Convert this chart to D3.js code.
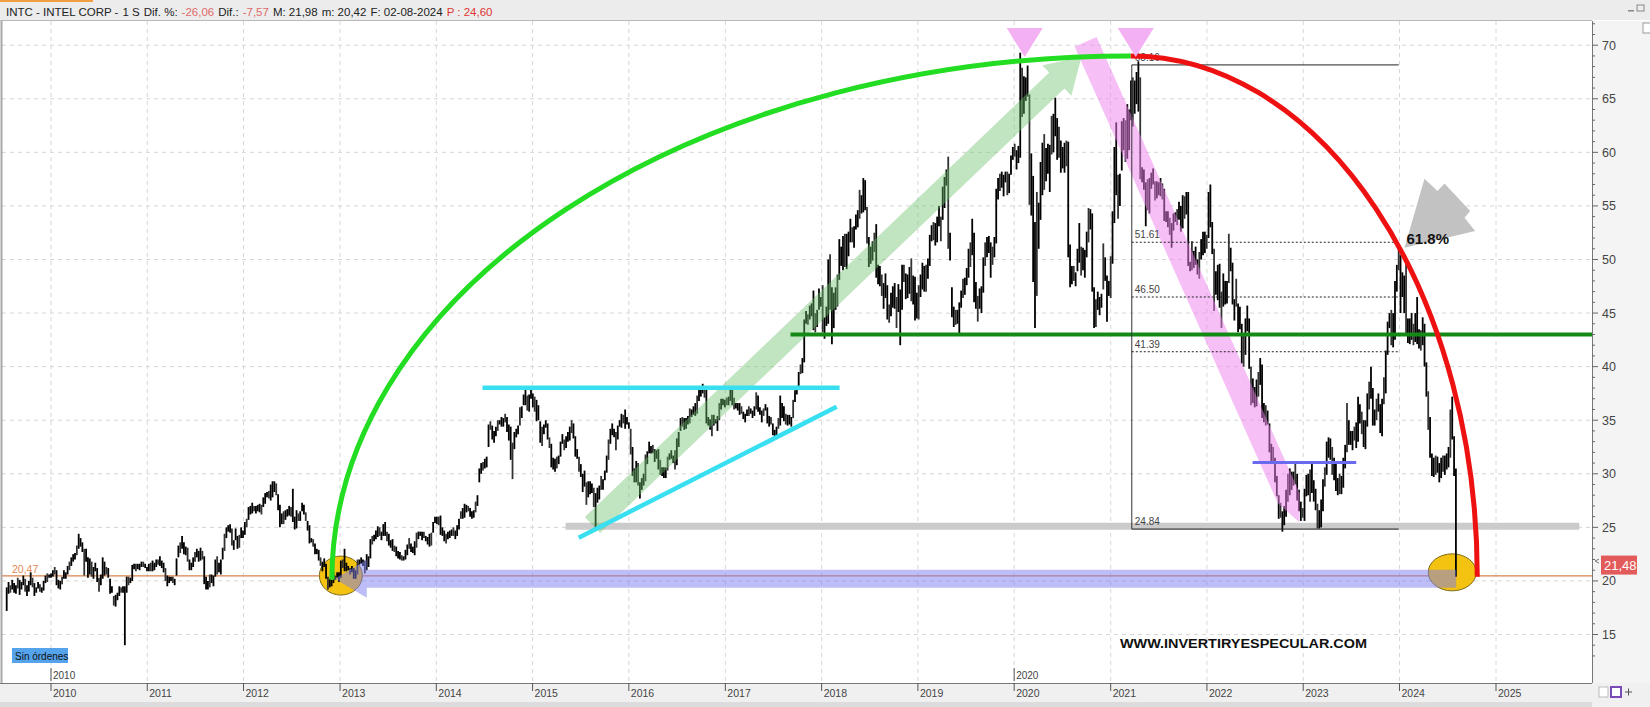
<!DOCTYPE html>
<html><head><meta charset="utf-8">
<script src="https://cdn.jsdelivr.net/npm/d3@7"></script>
<style>body{margin:0;background:#fff;overflow:hidden}svg{display:block}</style>
</head><body><svg id="c" width="1650" height="707"></svg>
<script>
// ---------- DATA (weekly bars: [low, high]) ----------
const weekStarts = ["2009-07-17","2010-01-01","2011-01-07","2012-01-06","2013-01-04","2014-01-03","2015-01-02","2016-01-01","2017-01-06","2018-01-05","2019-01-04","2020-01-03","2021-01-01","2022-01-07","2023-01-06","2024-01-05"];
const w2009 = [[17.2,19.4],[18.8,19.9],[18.9,19.6],[19.2,20.1],[18.9,19.8],[18.8,19.6],[19.3,20.3],[18.7,20.1],[19.2,19.9],[19.6,20.5],[19.0,20.2],[18.6,19.6],[19.0,20.0],[19.6,20.8],[19.4,20.3],[18.6,19.8],[18.9,19.4],[19.3,19.9],[19.0,19.7],[18.9,19.4],[19.1,20.0],[19.8,20.5],[19.9,20.7],[20.3,20.6]];
const w2010 = [[20.3,20.7],[20.4,21.0],[20.6,21.3],[19.6,21.0],[19.3,20.1],[19.2,20.0],[19.7,20.4],[20.2,21.0],[20.2,20.8],[20.6,21.4],[21.0,21.8],[21.4,22.2],[21.8,22.5],[22.0,22.6],[22.4,23.3],[23.0,24.4],[23.2,24.0],[22.7,23.6],[20.5,23.0],[21.8,23.0],[20.3,22.2],[20.6,22.1],[20.4,21.8],[20.2,21.3],[20.9,21.7],[19.9,21.2],[19.0,20.3],[19.6,20.6],[20.2,22.2],[20.5,21.8],[20.6,21.3],[20.3,21.2],[18.8,20.2],[18.9,19.5],[17.7,18.6],[17.6,18.7],[18.2,18.9],[18.6,19.5],[18.9,19.4],[18.9,19.5],[14.0,19.5],[18.9,20.4],[19.6,20.4],[19.8,20.3],[20.0,21.5],[21.1,21.6],[20.9,21.6],[21.1,21.6],[21.0,21.6],[21.3,21.8],[21.3,21.8],[21.2,21.6],[20.9,21.3]];
const w2011 = [[20.9,21.6],[20.9,21.7],[20.9,21.9],[21.0,21.7],[21.3,22.0],[21.5,22.0],[21.4,22.3],[21.2,21.9],[20.8,21.7],[20.0,21.2],[19.5,20.5],[19.8,20.4],[20.0,20.4],[19.8,20.4],[19.6,20.2],[20.5,22.1],[22.2,23.3],[22.6,23.6],[23.0,24.2],[22.5,23.6],[22.4,23.2],[21.8,23.1],[21.0,22.0],[21.0,21.7],[21.3,22.2],[21.8,22.7],[22.2,23.0],[21.8,22.8],[21.9,23.1],[22.0,22.8],[19.7,22.3],[19.2,20.4],[19.2,20.0],[19.4,20.6],[19.8,20.6],[19.5,20.5],[20.4,22.0],[20.6,22.3],[20.8,21.7],[20.6,22.0],[22.0,23.1],[22.8,24.4],[24.0,25.0],[24.6,25.2],[24.5,25.3],[23.3,24.9],[22.9,23.8],[23.8,24.9],[23.0,24.2],[23.1,24.3],[24.0,25.0],[24.0,24.7]];
const w2012 = [[24.3,25.5],[25.0,25.8],[25.7,26.9],[26.2,27.0],[26.3,27.3],[26.5,27.0],[26.3,27.0],[26.5,27.1],[26.4,27.2],[26.2,27.1],[26.9,27.8],[27.2,28.2],[27.8,28.3],[27.7,28.4],[27.5,29.0],[27.8,29.3],[28.3,29.3],[28.0,29.1],[26.6,28.1],[25.0,27.1],[25.3,26.3],[25.3,26.5],[25.7,26.6],[26.0,26.7],[26.1,27.0],[26.0,26.9],[25.5,28.6],[24.8,26.0],[24.9,26.6],[25.6,26.3],[25.6,26.5],[26.5,27.3],[26.2,27.1],[25.6,26.4],[24.7,25.6],[23.5,25.2],[23.6,24.0],[23.2,23.9],[22.5,23.5],[22.5,23.0],[21.9,22.9],[21.4,22.2],[20.9,21.8],[21.3,22.1],[20.2,21.6],[19.2,20.4],[19.4,20.2],[19.5,20.1],[19.8,20.8],[20.1,20.5],[20.3,20.8],[19.9,20.8]];
const w2013 = [[20.3,21.9],[21.2,22.0],[20.9,23.0],[20.9,21.7],[21.0,21.4],[20.6,21.2],[20.8,21.4],[20.2,21.2],[20.2,21.0],[20.6,22.0],[21.5,22.0],[21.6,22.2],[21.4,22.0],[20.7,21.9],[21.0,22.5],[21.3,22.3],[22.1,23.9],[23.4,24.2],[23.7,24.3],[23.9,24.7],[24.1,25.1],[24.2,25.0],[23.8,24.6],[24.2,25.3],[24.2,25.5],[23.7,24.6],[23.3,24.4],[23.1,23.8],[22.8,23.9],[22.7,23.3],[22.3,23.2],[22.1,22.8],[22.0,22.7],[21.9,22.4],[21.9,22.3],[22.0,22.9],[22.4,23.4],[23.0,24.0],[22.7,23.5],[22.6,23.2],[22.4,23.7],[23.1,24.5],[23.9,24.6],[24.2,24.6],[23.8,24.6],[24.0,24.6],[23.7,24.2],[23.4,24.1],[23.2,24.4],[23.3,24.5],[24.5,25.5],[25.4,26.0]];
const w2014 = [[25.3,26.0],[25.2,26.0],[24.3,26.1],[24.2,25.0],[23.7,24.7],[23.5,24.4],[23.9,24.6],[24.0,24.7],[24.2,24.8],[24.2,25.0],[23.9,24.7],[24.2,25.2],[24.8,25.8],[25.8,26.5],[25.8,26.8],[25.9,27.2],[26.4,27.1],[26.5,27.0],[26.0,26.8],[25.8,26.5],[25.9,26.6],[26.4,27.4],[27.0,28.0],[29.2,30.5],[30.0,31.0],[30.3,31.1],[30.5,31.4],[30.6,31.6],[32.5,34.6],[34.1,34.9],[33.2,34.5],[32.9,34.0],[33.5,34.4],[34.0,35.0],[34.6,35.0],[34.4,35.3],[34.4,35.2],[34.8,35.6],[33.9,35.3],[33.1,34.6],[31.3,34.4],[29.5,32.9],[32.3,33.9],[33.4,34.2],[33.7,34.5],[34.5,36.2],[35.2,36.3],[36.4,37.4],[36.4,37.9],[35.9,37.3],[35.8,37.4],[37.0,37.9]];
const w2015 = [[36.2,37.5],[35.8,37.2],[34.9,36.9],[35.0,36.4],[32.9,34.9],[32.6,34.4],[33.7,34.6],[34.3,35.0],[33.2,34.7],[32.4,33.4],[30.6,32.8],[30.4,31.5],[30.2,31.4],[30.5,31.6],[30.9,31.7],[31.6,33.0],[32.8,33.7],[32.2,33.2],[32.4,33.5],[33.0,33.9],[33.1,34.4],[33.8,35.0],[33.3,34.7],[31.6,33.5],[31.4,32.3],[30.2,31.6],[29.7,30.9],[28.3,30.0],[28.8,30.3],[27.1,29.2],[27.8,29.3],[28.1,29.3],[28.2,29.1],[26.9,28.7],[24.9,28.2],[27.3,28.7],[27.6,28.9],[28.5,29.8],[28.5,29.5],[29.4,30.3],[30.1,31.7],[31.3,33.2],[32.8,34.2],[33.6,34.7],[33.4,34.2],[32.2,33.9],[33.2,34.5],[34.4,35.0],[34.3,35.6],[34.7,35.5],[34.2,36.0],[34.6,35.3]];
const w2016 = [[34.2,34.8],[31.8,34.2],[29.8,32.5],[29.2,30.5],[29.2,31.2],[28.9,31.0],[27.7,29.2],[28.5,29.6],[28.9,30.0],[29.3,31.8],[30.9,32.1],[31.9,33.0],[31.9,32.6],[31.9,32.7],[31.1,32.3],[31.4,32.2],[30.4,32.3],[29.9,31.3],[29.8,30.6],[29.6,30.6],[29.6,30.6],[30.3,31.6],[31.3,31.9],[31.4,32.2],[31.0,31.7],[30.4,32.2],[30.8,33.3],[32.5,33.9],[34.0,35.2],[34.4,35.3],[34.1,35.2],[34.2,35.2],[34.6,35.4],[34.7,36.1],[35.3,36.0],[35.5,36.3],[35.4,36.6],[35.6,37.3],[36.8,38.0],[37.2,38.1],[37.5,38.4],[37.1,37.9],[34.7,37.9],[34.5,35.3],[34.1,35.1],[33.5,35.5],[34.5,35.5],[34.7,35.1],[34.0,35.4],[35.0,36.6],[36.0,37.0],[36.4,37.0],[36.2,36.9]];
const w2017 = [[36.4,37.1],[36.4,37.2],[36.8,38.0],[36.4,38.0],[36.0,37.1],[36.1,36.6],[35.9,36.6],[35.5,36.6],[35.6,36.3],[35.1,35.8],[34.8,35.6],[35.4,36.0],[35.4,36.3],[35.6,36.1],[35.2,35.9],[35.4,36.3],[36.0,37.6],[35.8,37.3],[35.5,36.2],[34.8,35.9],[35.4,36.1],[35.9,36.5],[34.7,36.2],[34.4,35.4],[34.6,35.3],[33.6,34.7],[33.2,34.1],[33.4,34.4],[34.2,35.2],[34.5,37.3],[35.2,36.6],[34.9,36.3],[34.6,35.6],[34.5,35.5],[34.6,35.5],[34.4,35.3],[35.2,36.9],[36.7,37.8],[37.4,38.2],[37.9,39.5],[39.3,40.2],[39.4,40.8],[40.4,44.4],[44.0,45.2],[43.9,44.9],[44.4,45.7],[44.7,45.9],[43.4,47.1],[43.2,45.0],[43.7,45.3],[45.3,47.3],[45.6,46.5]];
const w2018 = [[43.2,47.6],[42.6,44.6],[43.8,45.6],[44.0,50.0],[45.3,50.5],[42.1,47.4],[43.6,46.9],[45.3,47.4],[45.6,48.6],[48.1,51.9],[49.4,51.2],[49.0,52.2],[49.3,52.4],[49.1,52.4],[50.3,52.6],[51.6,53.8],[51.6,53.0],[51.1,53.1],[52.8,54.2],[53.0,54.6],[53.8,56.5],[54.3,56.0],[54.4,57.6],[54.6,57.4],[51.5,54.9],[49.3,52.1],[49.6,51.2],[49.9,51.7],[50.7,52.5],[48.3,53.3],[47.7,49.5],[47.5,49.4],[46.6,48.6],[45.4,47.8],[46.4,48.7],[44.4,47.6],[44.1,45.8],[44.7,46.9],[45.5,47.5],[45.4,47.8],[43.6,46.5],[45.1,47.7],[42.0,47.2],[45.3,49.5],[47.9,49.5],[46.3,48.7],[46.4,48.6],[46.8,49.3],[46.1,50.1],[45.8,48.5],[44.3,48.4],[44.5,46.9]];
const w2019 = [[44.4,47.6],[46.5,48.6],[47.2,49.7],[47.0,49.4],[47.0,49.5],[48.2,50.1],[49.4,52.3],[51.7,53.2],[51.8,53.5],[51.3,53.4],[51.6,54.0],[53.1,55.0],[51.7,54.0],[53.7,56.8],[54.8,57.7],[56.9,58.4],[51.0,59.6],[49.9,52.5],[44.6,47.4],[43.7,45.6],[43.9,45.3],[44.0,45.3],[42.9,46.0],[45.5,47.1],[46.4,48.2],[46.7,48.3],[47.6,49.2],[48.3,51.0],[49.3,51.6],[50.4,53.8],[46.0,52.5],[45.4,47.9],[44.2,46.6],[45.4,47.3],[45.0,47.5],[46.9,50.2],[49.4,51.6],[50.2,52.1],[50.6,52.2],[48.3,51.6],[49.5,51.2],[50.2,52.1],[51.5,56.6],[55.6,57.6],[56.4,58.0],[56.7,58.2],[55.9,57.9],[57.2,58.2],[56.0,58.2],[56.2,58.0],[57.9,59.7],[59.3,60.5]];
const w2020 = [[59.6,60.8],[58.4,60.2],[59.0,60.6],[59.5,69.3],[63.3,67.9],[63.6,67.1],[64.8,67.0],[65.2,68.1],[55.1,65.4],[54.1,59.9],[47.9,57.8],[43.6,53.5],[46.6,56.3],[51.0,55.3],[53.7,59.1],[56.0,60.9],[56.5,61.7],[57.3,60.4],[58.0,60.8],[56.3,60.7],[59.8,63.4],[60.0,63.6],[61.5,65.1],[59.3,63.2],[59.5,62.4],[58.1,61.1],[58.5,60.5],[58.1,60.9],[58.7,61.1],[50.2,61.0],[47.4,51.4],[47.7,49.4],[48.0,49.4],[47.5,48.8],[48.9,51.0],[49.7,53.4],[48.5,51.2],[49.0,51.1],[48.3,50.9],[50.2,52.6],[51.6,54.8],[52.8,54.7],[47.0,54.3],[43.6,47.4],[43.7,46.3],[45.3,47.0],[44.8,46.5],[45.5,46.8],[47.2,51.5],[48.0,50.2],[44.2,48.5],[46.6,48.0]];
const w2021 = [[46.4,50.3],[49.6,54.5],[53.4,60.5],[56.0,62.8],[53.8,57.9],[55.0,58.0],[58.3,62.9],[60.2,63.2],[59.1,63.0],[59.4,64.5],[60.2,64.0],[63.0,66.7],[62.4,67.0],[63.6,66.7],[64.5,67.5],[63.8,68.5],[57.5,67.0],[57.2,58.6],[56.5,58.4],[53.1,57.2],[54.6,57.5],[54.3,57.6],[56.6,58.1],[57.0,58.5],[55.5,57.3],[55.7,57.3],[56.0,57.2],[55.9,57.6],[55.6,57.1],[53.6,56.6],[53.5,54.5],[53.0,54.5],[52.3,53.9],[51.1,53.4],[52.7,54.3],[53.5,54.4],[53.2,54.7],[53.7,55.4],[52.6,55.0],[52.9,56.0],[53.8,55.9],[54.2,56.3],[49.4,56.3],[48.9,49.8],[49.0,51.7],[49.2,50.8],[49.5,51.2],[48.6,50.0],[48.2,50.7],[50.0,51.9],[50.4,52.6],[50.6,52.6],[51.0,52.3]];
const w2022 = [[52.0,56.3],[53.0,57.0],[50.5,53.5],[45.2,51.0],[46.7,48.9],[46.2,49.5],[45.5,49.6],[43.6,47.0],[45.6,48.7],[45.8,48.0],[45.9,48.0],[47.8,52.4],[48.9,51.1],[45.8,49.7],[44.3,46.3],[45.6,48.2],[43.2,45.9],[43.5,45.6],[40.3,44.0],[40.0,43.0],[41.1,44.5],[43.3,45.7],[39.8,44.5],[36.4,40.0],[36.6,38.9],[36.2,38.1],[36.3,38.8],[37.2,39.5],[38.3,40.8],[35.2,40.2],[34.8,36.6],[34.5,36.4],[34.6,35.9],[32.0,34.7],[31.0,32.8],[31.0,32.5],[29.2,31.5],[27.9,29.8],[25.8,28.0],[25.9,27.3],[24.6,26.5],[25.2,27.0],[26.0,28.5],[27.4,30.0],[28.0,30.5],[28.5,30.2],[28.9,30.2],[29.0,31.0],[27.5,30.0],[26.5,28.5],[25.6,27.4],[25.9,26.8]];
const w2023 = [[25.6,28.6],[27.9,29.9],[28.0,30.0],[27.4,30.4],[28.2,31.0],[27.4,29.4],[26.6,28.6],[24.9,27.2],[24.9,26.6],[25.0,27.6],[26.5,29.5],[28.8,30.6],[29.9,33.0],[31.5,33.4],[31.3,33.3],[29.9,32.5],[29.4,31.5],[28.4,31.2],[28.0,29.6],[28.1,30.0],[28.1,29.8],[28.7,31.5],[30.5,32.7],[32.0,36.6],[32.7,35.0],[32.7,34.0],[32.2,34.0],[33.1,34.4],[32.4,34.8],[33.0,37.2],[34.7,36.5],[33.7,35.8],[32.5,35.0],[32.3,35.0],[34.4,37.5],[36.0,38.6],[37.0,40.0],[34.5,38.0],[34.5,36.0],[35.0,37.0],[35.8,37.5],[33.8,36.5],[33.5,37.0],[36.5,39.0],[37.5,41.5],[41.1,44.2],[43.6,45.0],[42.0,45.3],[41.8,45.0],[42.5,48.0],[47.0,49.5],[49.0,51.3]];
const w2024 = [[45.0,50.4],[46.5,48.8],[45.0,48.5],[43.0,50.0],[42.2,44.5],[42.1,44.5],[42.5,45.0],[42.0,44.0],[42.3,45.0],[42.1,46.5],[41.7,43.5],[41.5,43.4],[42.0,44.6],[40.0,44.0],[37.2,40.4],[34.1,37.7],[31.5,35.3],[29.8,31.9],[29.7,31.5],[29.9,31.7],[30.1,31.6],[29.2,31.0],[29.6,31.5],[30.2,31.7],[29.9,31.7],[30.4,31.9],[30.6,32.5],[31.5,36.0],[33.2,37.2],[29.8,33.5],[20.4,30.5]];
const weeklyByYear = [w2009,w2010,w2011,w2012,w2013,w2014,w2015,w2016,w2017,w2018,w2019,w2020,w2021,w2022,w2023,w2024];

const priceTicks = [15,20,25,30,35,40,45,50,55,60,65,70];
const yearTicks = [2010,2011,2012,2013,2014,2015,2016,2017,2018,2019,2020,2021,2022,2023,2024,2025];
const fibLevels = [68.16,51.61,46.50,41.39,24.84];
const fibLabels = ["68.16","51.61","46.50","41.39","24.84"];
const fibSpan = ["2021-03-22","2023-12-29"];
const refLevel = 20.47, refLabel = "20,47";
const lastClose = 21.48, lastLabel = "21,48";
const cyanTop = [["2014-06-25",38.04],["2018-03-10",38.04]];
const cyanRise = [["2015-06-25",24.04],["2018-02-27",36.26]];
const grayLevel = [["2015-05-06",25.1],["2025-11-13",25.1]];
const blueLevel = [["2022-06-23",31.06],["2023-07-21",31.06]];
const greenLevel = [["2017-09-05",43.0],["2026-01-01",43.0]];
const greenArrow = [["2015-08-16",25.22],["2020-09-12",68.9]];
const pinkArrow = [["2020-09-28",70.3],["2022-12-17",25.5]];
const purpleArrow = [["2024-08-03",20.2],["2012-12-12",20.2]];
const circles = [["2013-01-04",20.5],["2024-07-19",20.8]];
const topMarkers = [["2020-02-10",68.9],["2021-04-06",68.9]];
const greenArc = {start:["2012-12-01",20.1], center:"2021-03-18", top:69.0};
const redArc = {end:["2024-10-22",20.4], center:"2021-03-18", top:69.0};
const fibArrowTip = ["2024-01-20",51.1];
// header pieces: [text, colour, preferred x]
const header = [["INTC - INTEL CORP -","#222",6],["1 S","#222",100],["Dif. %:","#222",116],["-26,06","#e06a6a",146],["Dif.:","#222",180],["-7,57","#e06a6a",201],["M: 21,98","#222",226],["m: 20,42","#222",264],["F: 02-08-2024","#222",302],["P : 24,60","#e03535",366]];

// ---------- CHART ----------
const parse = d3.timeParse("%Y-%m-%d");
const svg = d3.select("#c");
const PL=2, PR=1592, PT=21, PB=683;
const FONT="Liberation Sans, Arial, sans-serif";
const NARROW="Liberation Sans Narrow, Liberation Sans, sans-serif";
const x = d3.scaleTime().domain([new Date(2010,0,1), new Date(2025,0,1)]).range([51,1496]);
const y = d3.scaleLinear().domain([15,70]).range([634.5,45.2]);
const P = d => [x(parse(d[0])), y(d[1])];

svg.append("rect").attr("width",1650).attr("height",707).attr("fill","#fff");
svg.append("defs").append("clipPath").attr("id","plot").append("rect").attr("x",PL).attr("y",PT).attr("width",PR-PL).attr("height",PB-PT);

const grid = svg.append("g").attr("clip-path","url(#plot)");
grid.selectAll(".hg").data(priceTicks).join("line").attr("x1",PL).attr("x2",PR).attr("y1",d=>y(d)).attr("y2",d=>y(d)).attr("stroke","#d6d6d6").attr("stroke-dasharray","4,4");
grid.selectAll(".vg").data(yearTicks).join("line").attr("x1",d=>x(new Date(d,0,1))).attr("x2",d=>x(new Date(d,0,1))).attr("y1",PT).attr("y2",PB).attr("stroke","#d6d6d6").attr("stroke-dasharray","4,4");

const g = svg.append("g").attr("clip-path","url(#plot)");
g.append("line").attr("x1",PL).attr("x2",PR).attr("y1",y(refLevel)).attr("y2",y(refLevel)).attr("stroke","#d9834a").attr("stroke-width",1.2);
g.append("text").attr("x",12).attr("y",y(refLevel)-3).attr("fill","#e08a55").attr("font-size",10.5).attr("font-family",FONT).text(refLabel);

circles.forEach((c,i)=>{const p=P(c); g.append("ellipse").attr("cx",p[0]).attr("cy",p[1]).attr("rx",i?24:21.5).attr("ry",i?18.5:19.5).attr("fill","#f4c210").attr("stroke","#7d6c1c").attr("stroke-width",1);});

g.append("line").attr("x1",P(grayLevel[0])[0]).attr("x2",P(grayLevel[1])[0]).attr("y1",y(grayLevel[0][1])).attr("y2",y(grayLevel[0][1])).attr("stroke","#cbcbcb").attr("stroke-width",7);

const bars=[];
weeklyByYear.forEach((arr,k)=>{const s=parse(weekStarts[k]); arr.forEach((b,i)=>bars.push({d:d3.timeDay.offset(s,7*i),lo:b[0],hi:b[1]}));});
g.append("g").selectAll("line").data(bars).join("line")
 .attr("x1",d=>x(d.d)).attr("x2",d=>x(d.d)).attr("y1",d=>y(d.lo)).attr("y2",d=>y(d.hi))
 .attr("stroke",(d,i)=>i%4===2?"#333":"#000").attr("stroke-width",1.8);

function arrowPoly(p0,p1,w,hw,hl){const dx=p1[0]-p0[0],dy=p1[1]-p0[1],L=Math.hypot(dx,dy),ux=dx/L,uy=dy/L,nx=-uy,ny=ux;
 const nk=[p1[0]-ux*hl,p1[1]-uy*hl];
 return [[p0[0]+nx*w,p0[1]+ny*w],[nk[0]+nx*w,nk[1]+ny*w],[nk[0]+nx*hw,nk[1]+ny*hw],p1,[nk[0]-nx*hw,nk[1]-ny*hw],[nk[0]-nx*w,nk[1]-ny*w],[p0[0]-nx*w,p0[1]-ny*w]].map(q=>q.join(",")).join(" ");}
g.append("polygon").attr("points",arrowPoly(P(greenArrow[0]),P(greenArrow[1]),11,21,34)).attr("fill","#6cbf6c").attr("opacity",0.42);
g.append("polygon").attr("points",arrowPoly(P(pinkArrow[0]),P(pinkArrow[1]),12,12,26)).attr("fill","#ee80ee").attr("opacity",0.5);
g.append("polygon").attr("points",arrowPoly(P(purpleArrow[0]),P(purpleArrow[1]),9,19,32)).attr("fill","#7b7bf0").attr("opacity",0.5);

const seg=(a,col,w)=>g.append("line").attr("x1",P(a[0])[0]).attr("y1",P(a[0])[1]).attr("x2",P(a[1])[0]).attr("y2",P(a[1])[1]).attr("stroke",col).attr("stroke-width",w);
seg(cyanTop,"#38dff0",4.5); seg(cyanRise,"#38dff0",4.5);
seg(greenLevel,"#148a14",4); seg(blueLevel,"#6a6aee",3);

const fx0=x(parse(fibSpan[0])), fx1=x(parse(fibSpan[1]));
g.append("line").attr("x1",fx0).attr("x2",fx0).attr("y1",y(fibLevels[0])).attr("y2",y(fibLevels[4])).attr("stroke","#333").attr("stroke-width",1);
fibLevels.forEach((v,i)=>{
 g.append("line").attr("x1",fx0).attr("x2",fx1).attr("y1",y(v)).attr("y2",y(v)).attr("stroke","#222").attr("stroke-width",1).attr("stroke-dasharray",(i===0||i===4)?null:"2,2");
 g.append("text").attr("x",fx0+3).attr("y",y(v)-4).attr("font-size",10).attr("fill","#444").attr("font-family",FONT).text(fibLabels[i]);
});

const gs=P(greenArc.start), gcx=x(parse(greenArc.center)), gTop=y(greenArc.top);
g.append("path").attr("d",`M${gs[0]},${gs[1]} A${gcx-gs[0]},${gs[1]-gTop} 0 0 1 ${gcx},${gTop}`).attr("fill","none").attr("stroke","#22dd22").attr("stroke-width",5);
const re=P(redArc.end), rcx=x(parse(redArc.center)), rTop=y(redArc.top);
g.append("path").attr("d",`M${rcx},${rTop} A${re[0]-rcx},${re[1]-rTop} 0 0 1 ${re[0]},${re[1]}`).attr("fill","none").attr("stroke","#ee1111").attr("stroke-width",5);

topMarkers.forEach(m=>{const p=P(m); g.append("polygon").attr("points",`${p[0]-18},${p[1]-29} ${p[0]+18},${p[1]-29} ${p[0]},${p[1]}`).attr("fill","#f3b0f3");});

const t=P(fibArrowTip);
const ga=[[0,0],[20,-69],[33,-56.6],[40,-64.3],[65.7,-36.6],[60,-30],[70.7,-16.6]];
g.append("polygon").attr("points",ga.map(o=>[t[0]+o[0],t[1]+o[1]].join(",")).join(" ")).attr("fill","#c2c2c2");
g.append("text").attr("x",t[0]+2).attr("y",t[1]-4).attr("font-size",15).attr("font-weight","bold").attr("fill","#111").attr("font-family",FONT).text("61.8%");

svg.append("text").attr("x",1120).attr("y",648).attr("font-size",13.5).attr("font-weight","bold").attr("fill","#111").attr("font-family",FONT).attr("textLength",247).attr("lengthAdjust","spacingAndGlyphs").text("WWW.INVERTIRYESPECULAR.COM");

svg.append("rect").attr("x",12).attr("y",648).attr("width",56).attr("height",15).attr("fill","#55a3ec");
svg.append("text").attr("x",15).attr("y",659.5).attr("font-size",10).attr("fill","#111").attr("font-family",NARROW).text("Sin órdenes");

[2010,2020].forEach(yr=>{const xx=x(new Date(yr,0,1));
 svg.append("line").attr("x1",xx).attr("x2",xx).attr("y1",668).attr("y2",681).attr("stroke","#555");
 svg.append("text").attr("x",xx+2).attr("y",679).attr("font-size",10).attr("fill","#444").attr("font-family",NARROW).text(yr);});

// header: pieces laid out left to right, never overlapping
svg.append("rect").attr("width",1650).attr("height",20).attr("fill","#ececec");
svg.append("rect").attr("width",93).attr("height",2).attr("fill","#f0a040");
svg.append("line").attr("x1",0).attr("x2",PR).attr("y1",20.5).attr("y2",20.5).attr("stroke","#b8b8b8");
let cursor=0;
header.forEach(h=>{
 const xx=Math.max(h[2],cursor+4);
 const tx=svg.append("text").attr("x",xx).attr("y",16).attr("font-size",11.5).attr("fill",h[1]).attr("font-family",NARROW).text(h[0]);
 cursor=xx+tx.node().getComputedTextLength();
});

svg.append("line").attr("x1",1.5).attr("x2",1.5).attr("y1",PT).attr("y2",PB).attr("stroke","#a8a8a8").attr("stroke-width",2);

svg.append("rect").attr("x",PR).attr("y",PT).attr("width",1650-PR).attr("height",PB-PT).attr("fill","#f4f4f4");
svg.append("line").attr("x1",PR+0.5).attr("x2",PR+0.5).attr("y1",PT).attr("y2",PB).attr("stroke","#777");
const minor=d3.range(13,73,1);
svg.selectAll(".mt").data(minor).join("line").attr("x1",PR).attr("x2",d=>PR+(d%5===0?6:3)).attr("y1",d=>y(d)).attr("y2",d=>y(d)).attr("stroke","#666");
svg.selectAll(".pl").data(priceTicks).join("text").attr("x",1602).attr("y",d=>y(d)+4.5).attr("font-size",12.5).attr("fill","#444").attr("font-family",FONT).text(d=>d);
svg.append("rect").attr("x",1601).attr("y",y(lastClose)-9.5).attr("width",36).attr("height",19).attr("fill","#e25a5a");
svg.append("text").attr("x",1604).attr("y",y(lastClose)+5).attr("font-size",13).attr("fill","#fff").attr("font-family",FONT).text(lastLabel);
svg.append("path").attr("d",`M1599,${y(lastClose)-6} l-4,2 l4,2`).attr("fill","none").attr("stroke","#777");
svg.append("rect").attr("x",1628).attr("y",10).attr("width",6).attr("height",1.5).attr("fill","#888");
svg.append("rect").attr("x",1637).attr("y",5).attr("width",7).attr("height",6).attr("fill","none").attr("stroke","#888");
svg.append("rect").attr("x",1643).attr("y",23).attr("width",9).attr("height",10).attr("fill","#fff").attr("stroke","#999");

svg.append("rect").attr("x",0).attr("y",PB).attr("width",1650).attr("height",707-PB).attr("fill","#f0f0f0");
svg.append("line").attr("x1",0).attr("x2",PR).attr("y1",PB+0.5).attr("y2",PB+0.5).attr("stroke","#777");
svg.selectAll(".yt").data(yearTicks).join("line").attr("x1",d=>x(new Date(d,0,1))).attr("x2",d=>x(new Date(d,0,1))).attr("y1",PB).attr("y2",PB+8).attr("stroke","#555");
svg.selectAll(".yl").data(yearTicks).join("text").attr("x",d=>x(new Date(d,0,1))+2).attr("y",PB+14).attr("font-size",10.5).attr("fill","#444").attr("font-family",NARROW).text(d=>d);
svg.append("rect").attr("x",0).attr("y",702).attr("width",1592).attr("height",5).attr("fill","#dcdcdc");
svg.append("rect").attr("x",1599).attr("y",687).attr("width",9).attr("height",10).attr("fill","#fff").attr("stroke","#bbb");
svg.append("rect").attr("x",1611).attr("y",687).attr("width",10).attr("height",10).attr("fill","#fff").attr("stroke","#7a4ab8").attr("stroke-width",2);
svg.append("path").attr("d","M1625,692 h7 M1628.5,688.5 v7").attr("stroke","#555");
</script></body></html>
